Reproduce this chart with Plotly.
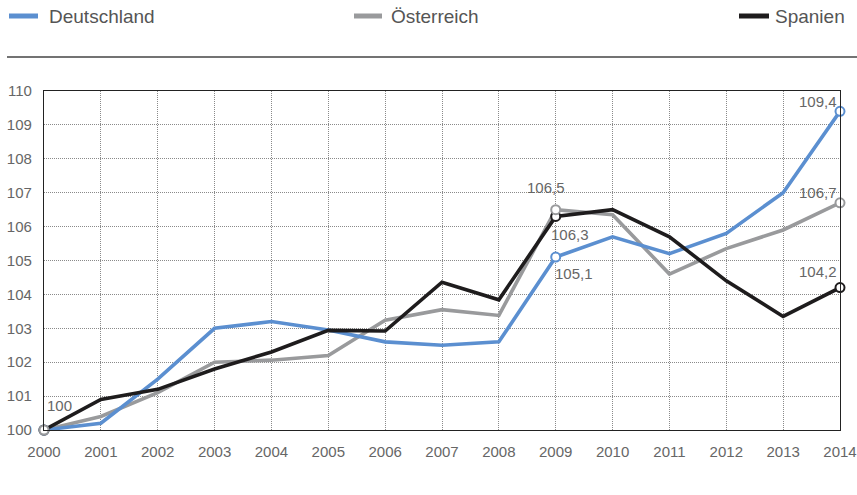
import plotly.graph_objects as go

years = list(range(2000, 2015))
deutschland = [100.0, 100.2, 101.5, 103.0, 103.2, 102.95, 102.6, 102.5, 102.6, 105.1, 105.7, 105.2, 105.8, 107.0, 109.4]
oesterreich = [100.0, 100.4, 101.1, 102.0, 102.06, 102.2, 103.24, 103.55, 103.38, 106.5, 106.35, 104.6, 105.35, 105.9, 106.7]
spanien = [100.0, 100.9, 101.2, 101.8, 102.3, 102.94, 102.92, 104.36, 103.84, 106.3, 106.5, 105.7, 104.4, 103.35, 104.2]

names = ["Deutschland", "Österreich", "Spanien"]
colors = ["#5b8fd0", "#999a9c", "#1e1c1d"]
series = [deutschland, oesterreich, spanien]
marked_idx = [0, 9, 14]
y_ticks = list(range(100, 111))

# label offsets (pixels) for the marked points: (series, index, xshift, yshift)
labels = [
    (0, 0, 15, 25),
    (1, 9, -10, 22),
    (2, 9, 14, -18),
    (0, 9, 18, -16),
    (0, 14, -22, 10),
    (1, 14, -22, 10),
    (2, 14, -22, 16),
]

fig = go.Figure()

draw_order = [1, 0, 2]
for i in draw_order:
    fig.add_trace(go.Scatter(
        x=years, y=series[i], mode="lines", name=names[i],
        line=dict(color=colors[i], width=3.6), showlegend=False,
        cliponaxis=False,
    ))

for i in [0, 2, 1]:
    fig.add_trace(go.Scatter(
        x=[years[k] for k in marked_idx], y=[series[i][k] for k in marked_idx],
        mode="markers", showlegend=False, cliponaxis=False,
        marker=dict(size=9, color="white", line=dict(color=colors[i], width=2)),
    ))

annotations = []
for s, k, dx, dy in labels:
    v = series[s][k]
    txt = "100" if v == 100 else f"{v:.1f}".replace(".", ",")
    annotations.append(dict(
        x=years[k], y=v, xref="x", yref="y", text=txt, showarrow=False,
        xshift=dx, yshift=dy, font=dict(size=15, color="#666666"),
    ))

# custom legend at top
plot_l, plot_r, plot_t, plot_b = 44, 840, 91, 430
pw, ph = plot_r - plot_l, plot_b - plot_t
def px(xp):
    return (xp - plot_l) / pw
def py(yp):
    return (plot_b - yp) / ph

shapes = []
legend_pos = [(9, 38, 47), (354, 382, 389), (739, 769, 773)]
for (x0, x1, tx), name, col in zip(legend_pos, names, colors):
    shapes.append(dict(type="line", xref="paper", yref="paper",
                       x0=px(x0), x1=px(x1), y0=py(16), y1=py(16),
                       line=dict(color=col, width=5)))
    annotations.append(dict(x=px(tx), y=py(16.5), xref="paper", yref="paper",
                            text=name, showarrow=False, xanchor="left", yanchor="middle",
                            font=dict(size=19, color="#555555")))
shapes.append(dict(type="line", xref="paper", yref="paper",
                   x0=px(7), x1=px(857), y0=py(57), y1=py(57),
                   line=dict(color="#444444", width=1.3)))

fig.update_layout(
    width=857, height=495,
    margin=dict(l=plot_l, r=857 - plot_r, t=plot_t, b=495 - plot_b, autoexpand=False),
    paper_bgcolor="white", plot_bgcolor="white",
    font=dict(family="Liberation Sans, Arial, sans-serif", size=15, color="#666666"),
    showlegend=False,
    annotations=annotations, shapes=shapes,
    xaxis=dict(range=[2000, 2014], tickmode="array", tickvals=years,
               ticktext=[str(y) for y in years], automargin=False,
               showgrid=True, gridcolor="#8a8a8a", griddash="1px,1px", gridwidth=1,
               showline=True, linecolor="#222222", linewidth=1.2, mirror=True,
               zeroline=False, ticks="", ticklabelstandoff=8,
               tickfont=dict(size=15, color="#666666")),
    yaxis=dict(range=[100, 110], tickmode="array", tickvals=y_ticks,
               ticktext=[str(v) for v in y_ticks], automargin=False,
               showgrid=True, gridcolor="#8a8a8a", griddash="1px,1px", gridwidth=1,
               showline=True, linecolor="#222222", linewidth=1.2, mirror=True,
               zeroline=False, ticks="", ticklabelstandoff=8,
               tickfont=dict(size=15, color="#666666")),
)

fig.write_html("out.html", config={"displayModeBar": False},
               post_script="document.body.style.margin='0';")
